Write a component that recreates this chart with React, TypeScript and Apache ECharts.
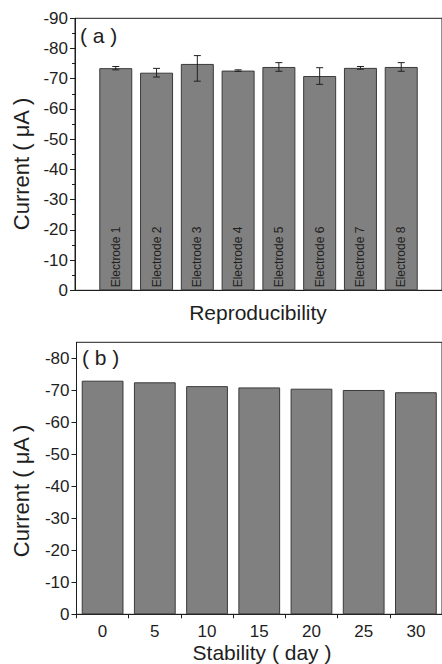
import React, { useEffect, useRef } from 'react';
import * as echarts from 'echarts';

// ---- data ----
const electrodeNames = ['Electrode 1', 'Electrode 2', 'Electrode 3', 'Electrode 4', 'Electrode 5', 'Electrode 6', 'Electrode 7', 'Electrode 8'];
const electrodePos = [1, 2, 3, 4, 5, 6, 7, 8];
const reproCurrent = [73.5, 72.0, 74.9, 72.7, 73.9, 70.9, 73.6, 73.9];
const reproErrUp = [0.55, 1.43, 2.76, 0.25, 1.43, 2.76, 0.45, 1.43];
const reproErrDown = [0.55, 1.43, 5.7, 0.25, 1.43, 2.76, 0.45, 1.43];

const stabilityDays = ['0', '5', '10', '15', '20', '25', '30'];
const stabilityCurrent = [73.0, 72.5, 71.3, 70.9, 70.5, 70.1, 69.4];

const yTicksA = [0, 10, 20, 30, 40, 50, 60, 70, 80, 90];
const yTicksB = [0, 10, 20, 30, 40, 50, 60, 70, 80];

const FONT = 'Liberation Sans, Arial, Helvetica, sans-serif';
const INK = '#1e1e1e';

const negLabel = (v: number) => (v === 0 ? '0' : '-' + v);

export default function App() {
  const ref = useRef<HTMLDivElement>(null);
  useEffect(() => {
    if (!ref.current) return;
    const chart = echarts.init(ref.current, null, { renderer: 'svg' });

    const lineStyle = { color: INK, width: 1 };
    const yAxisCommon = (max: number, ticks: number[]) => ({
      type: 'value',
      min: 0,
      max,
      interval: 10,
      axisLine: { show: true, lineStyle },
      axisTick: { show: true, inside: false, length: 5, lineStyle, customValues: ticks },
      axisLabel: {
        show: true,
        fontSize: 17,
        color: INK,
        fontFamily: FONT,
        margin: 7,
        customValues: ticks,
        formatter: (v: number) => negLabel(v),
      },
      splitLine: { show: false },
    });

    const option: any = {
      animation: false,
      textStyle: { fontFamily: FONT },
      grid: [
        { left: 75, top: 18.3, width: 369, height: 272, show: true, borderColor: INK, borderWidth: 1, backgroundColor: 'transparent', containLabel: false },
        { left: 76.5, top: 342.3, width: 367.5, height: 272, show: true, borderColor: INK, borderWidth: 1, backgroundColor: 'transparent', containLabel: false },
      ],
      xAxis: [
        {
          type: 'value',
          gridIndex: 0,
          min: 0,
          max: 9,
          axisLine: { show: true, lineStyle },
          axisTick: { show: false },
          axisLabel: { show: false },
          splitLine: { show: false },
        },
        {
          type: 'category',
          gridIndex: 1,
          data: stabilityDays,
          boundaryGap: true,
          axisLine: { show: true, lineStyle },
          axisTick: { show: true, inside: false, length: 4, alignWithLabel: false, lineStyle },
          axisLabel: { fontSize: 17, color: INK, fontFamily: FONT, margin: 9 },
          splitLine: { show: false },
        },
      ],
      yAxis: [
        {
          ...yAxisCommon(90, yTicksA),
          gridIndex: 0,
          minorTick: { show: true, splitNumber: 2, length: 3, lineStyle },
        },
        {
          ...yAxisCommon(85, yTicksB),
          gridIndex: 1,
        },
        {
          type: 'value',
          gridIndex: 1,
          min: 0,
          max: 85,
          interval: 5,
          axisLine: { show: false },
          axisTick: { show: true, inside: false, length: 3, lineStyle },
          axisLabel: { show: false },
          splitLine: { show: false },
        },
      ],
      series: [
        {
          type: 'bar',
          xAxisIndex: 0,
          yAxisIndex: 0,
          barWidth: 33,
          data: electrodePos.map((x, i) => [x, reproCurrent[i]]),
          itemStyle: { color: '#808080', borderColor: '#3a3a3a', borderWidth: 1 },
          label: {
            show: true,
            position: 'insideBottom',
            rotate: 90,
            align: 'left',
            verticalAlign: 'middle',
            distance: 7,
            offset: [-4, 0],
            fontSize: 12,
            color: INK,
            fontFamily: FONT,
            formatter: (p: any) => electrodeNames[p.dataIndex],
          },
        },
        {
          type: 'custom',
          xAxisIndex: 0,
          yAxisIndex: 0,
          z: 10,
          data: electrodePos.map((x, i) => [x, reproCurrent[i] - reproErrDown[i], reproCurrent[i] + reproErrUp[i]]),
          encode: { x: 0, y: [1, 2] },
          renderItem: (params: any, api: any) => {
            const x = api.value(0);
            const pLo = api.coord([x, api.value(1)]);
            const pHi = api.coord([x, api.value(2)]);
            const hw = 3.5;
            const style = { stroke: '#222222', lineWidth: 1 };
            return {
              type: 'group',
              children: [
                { type: 'line', shape: { x1: pLo[0], y1: pLo[1], x2: pHi[0], y2: pHi[1] }, style },
                { type: 'line', shape: { x1: pLo[0] - hw, y1: pLo[1], x2: pLo[0] + hw, y2: pLo[1] }, style },
                { type: 'line', shape: { x1: pHi[0] - hw, y1: pHi[1], x2: pHi[0] + hw, y2: pHi[1] }, style },
              ],
            };
          },
        },
        {
          type: 'bar',
          xAxisIndex: 1,
          yAxisIndex: 1,
          barWidth: '80%',
          data: stabilityCurrent,
          itemStyle: { color: '#808080', borderColor: '#3a3a3a', borderWidth: 1 },
        },
      ],
      graphic: [
        { type: 'text', left: 80, top: 25, style: { text: '( a )', fontSize: 21, fill: INK, fontFamily: FONT } },
        { type: 'text', left: 82, top: 347, style: { text: '( b )', fontSize: 21, fill: INK, fontFamily: FONT } },
        { type: 'text', x: 258, y: 312, style: { text: 'Reproducibility', fontSize: 21, fill: INK, fontFamily: FONT, align: 'center', verticalAlign: 'middle' } },
        { type: 'text', x: 262, y: 652, style: { text: 'Stability ( day )', fontSize: 21, fill: INK, fontFamily: FONT, align: 'center', verticalAlign: 'middle' } },
        { type: 'text', x: 21, y: 164, rotation: Math.PI / 2, style: { text: 'Current ( μA )', fontSize: 22, fill: INK, fontFamily: FONT, align: 'center', verticalAlign: 'middle' } },
        { type: 'text', x: 21, y: 491, rotation: Math.PI / 2, style: { text: 'Current ( μA )', fontSize: 22, fill: INK, fontFamily: FONT, align: 'center', verticalAlign: 'middle' } },
      ],
    };

    chart.setOption(option);
    return () => chart.dispose();
  }, []);

  return <div ref={ref} style={{ position: 'absolute', left: 0, top: 0, width: 442, height: 664 }} />;
}
